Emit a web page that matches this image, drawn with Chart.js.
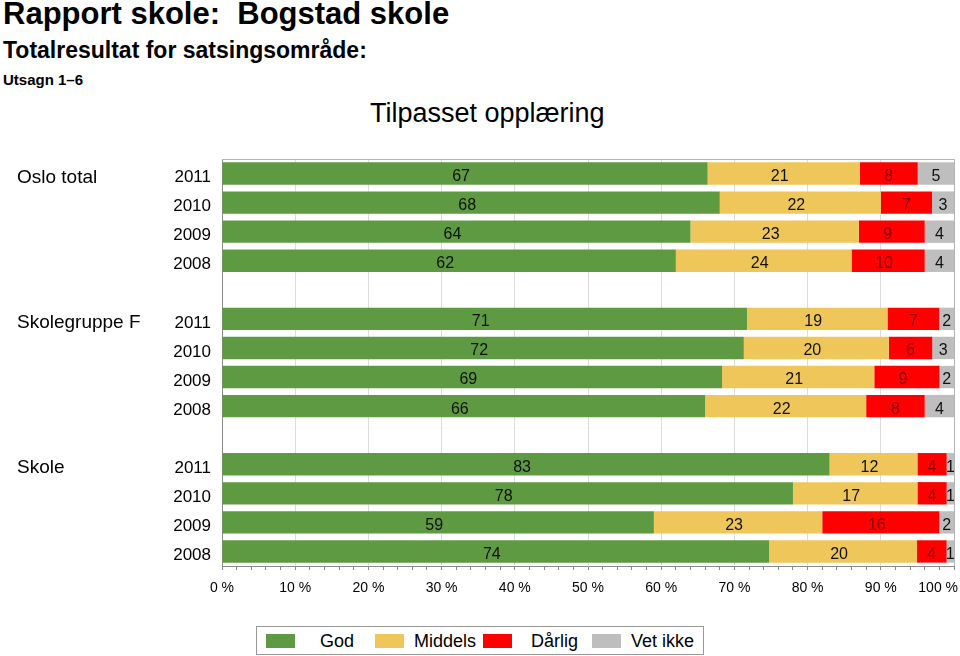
<!DOCTYPE html>
<html>
<head>
<meta charset="utf-8">
<script src="https://cdn.jsdelivr.net/npm/chart.js@4.4.1/dist/chart.umd.min.js"></script>
<style>
  html, body { margin:0; padding:0; background:#fff; }
  body { width:960px; height:656px; position:relative; overflow:hidden; font-family:"Liberation Sans", Arial, sans-serif; color:#000; }
  .t { position:absolute; white-space:nowrap; line-height:1; }
  #chartWrap { position:absolute; left:0; top:0; width:960px; height:656px; }
  #legend { position:absolute; left:256px; top:626px; width:446px; height:27px; border:1px solid #999; background:#fff; }
  .sw { position:absolute; top:7px; width:29px; height:14px; }
  .lt { position:absolute; top:5px; font-size:18px; line-height:1; white-space:nowrap; }
</style>
</head>
<body>
<div class="t" style="left:3px;top:-2px;font-size:31px;font-weight:bold;">Rapport skole:&nbsp; Bogstad skole</div>
<div class="t" style="left:3px;top:39px;font-size:23px;font-weight:bold;">Totalresultat for satsingsområde:</div>
<div class="t" style="left:3px;top:72px;font-size:15px;font-weight:bold;">Utsagn 1–6</div>
<div class="t" style="left:370px;top:100px;font-size:27px;">Tilpasset opplæring</div>
<div id="chartWrap"><canvas id="c" width="960" height="656"></canvas></div>
<div id="legend"></div>
<script>
// ---- data ----
const groups = ['Oslo total', 'Skolegruppe F', 'Skole'];
const years = ['2011', '2010', '2009', '2008'];
const seriesNames = ['God', 'Middels', 'Dårlig', 'Vet ikke'];
const seriesColors = ['#5e9a41', '#eec65a', '#ff0000', '#bebebe'];
const labelColors = ['#111111', '#111111', '#8b0000', '#111111'];

// values per group, rows in year order 2011, 2010, 2009, 2008
const god      = [[67, 68, 64, 62], [71, 72, 69, 66], [83, 78, 59, 74]];
const middels  = [[21, 22, 23, 24], [19, 20, 21, 22], [12, 17, 23, 20]];
const darlig   = [[8, 7, 9, 10],    [7, 6, 9, 8],     [4, 4, 16, 4]];
const vetIkke  = [[5, 3, 4, 4],     [2, 3, 2, 4],     [1, 1, 2, 1]];

const xTickValues = [0, 10, 20, 30, 40, 50, 60, 70, 80, 90, 100];
const xTickLabels = ['0 %', '10 %', '20 %', '30 %', '40 %', '50 %', '60 %', '70 %', '80 %', '90 %', '100 %'];

// ---- build categories (blank rows between groups) ----
const labels = [];
const groupStartIndex = [];
const rowRefs = []; // [g, r] or null
groups.forEach((g, gi) => {
  if (gi > 0) { labels.push(''); rowRefs.push(null); }
  groupStartIndex.push(labels.length);
  years.forEach((y, ri) => { labels.push(y); rowRefs.push([gi, ri]); });
});
const allSeries = [god, middels, darlig, vetIkke];
function rowSum(gi, ri) { return allSeries.reduce((s, a) => s + a[gi][ri], 0); }

const datasets = allSeries.map((arr, si) => ({
  label: seriesNames[si],
  backgroundColor: seriesColors[si],
  borderWidth: 0,
  data: rowRefs.map(ref => ref ? arr[ref[0]][ref[1]] / rowSum(ref[0], ref[1]) * 100 : null),
  rawValues: rowRefs.map(ref => ref ? arr[ref[0]][ref[1]] : null),
  labelColor: labelColors[si],
  barPercentage: 0.77,
  categoryPercentage: 1.0
}));

// ---- plugins ----
const valueLabels = {
  id: 'valueLabels',
  afterDatasetsDraw(chart) {
    const ctx = chart.ctx;
    ctx.save();
    ctx.font = '16px "Liberation Sans", Arial, sans-serif';
    ctx.textAlign = 'center';
    ctx.textBaseline = 'middle';
    chart.data.datasets.forEach((ds, di) => {
      const meta = chart.getDatasetMeta(di);
      meta.data.forEach((bar, i) => {
        const v = ds.rawValues[i];
        if (v === null || v === undefined) return;
        const w = Math.abs(bar.x - bar.base);
        const x = (bar.x + bar.base) / 2 - (w > 60 ? 4 : 0);
        ctx.fillStyle = ds.labelColor;
        ctx.fillText(String(v), x, bar.y + 3);
      });
    });
    ctx.restore();
  }
};

const frameAndLabels = {
  id: 'frameAndLabels',
  afterDraw(chart) {
    const ctx = chart.ctx;
    const a = chart.chartArea;
    ctx.save();
    // frame
    ctx.strokeStyle = '#b4b4b4';
    ctx.lineWidth = 1;
    ctx.beginPath();
    ctx.moveTo(a.left, a.top + 0.5);
    ctx.lineTo(a.right + 0.5, a.top + 0.5);
    ctx.lineTo(a.right + 0.5, a.bottom);
    ctx.stroke();
    // group labels
    const yScale = chart.scales.y;
    ctx.fillStyle = '#000';
    ctx.font = '19px "Liberation Sans", Arial, sans-serif';
    ctx.textAlign = 'left';
    ctx.textBaseline = 'middle';
    groups.forEach((g, gi) => {
      const y = yScale.getPixelForValue(groupStartIndex[gi]);
      ctx.fillText(g, 17, y + 4);
    });
    // x tick labels
    const xScale = chart.scales.x;
    ctx.font = '14px "Liberation Sans Narrow", "Liberation Sans", Arial, sans-serif';
    ctx.textAlign = 'center';
    xTickValues.forEach((v, i) => {
      let x = xScale.getPixelForValue(v);
      const w = ctx.measureText(xTickLabels[i]).width;
      if (x + w / 2 > 958) x = 958 - w / 2;
      ctx.fillText(xTickLabels[i], x, 588);
    });
    ctx.restore();
  }
};

new Chart(document.getElementById('c'), {
  type: 'bar',
  data: { labels, datasets },
  options: {
    indexAxis: 'y',
    responsive: false,
    animation: false,
    layout: { padding: { top: 159, right: 6, bottom: 0, left: 0 } },
    plugins: { legend: { display: false }, title: { display: false }, tooltip: { enabled: false } },
    scales: {
      x: {
        type: 'linear',
        stacked: true,
        min: 0, max: 100,
        ticks: { stepSize: 2, display: false },
        grid: {
          color: c => (c.tick && Math.round(c.tick.value) % 10 === 0) ? '#dcdcdc' : 'rgba(0,0,0,0)',
          tickColor: '#8a8a8a',
          tickLength: 4,
          drawTicks: true
        },
        border: { display: true, color: '#8a8a8a' },
        afterFit(s) { s.height = 90; s.paddingLeft = 0; s.paddingRight = 0; }
      },
      y: {
        stacked: true,
        ticks: { color: '#000', font: { size: 17, family: '"Liberation Sans", Arial, sans-serif' }, padding: 11, autoSkip: false, labelOffset: 4 },
        grid: { display: false, drawTicks: false },
        border: { display: true, color: '#8a8a8a' },
        afterFit(s) { s.width = 222; s.paddingTop = 0; s.paddingBottom = 0; }
      }
    }
  },
  plugins: [valueLabels, frameAndLabels]
});

// ---- legend ----
const legend = document.getElementById('legend');
const swX = [9, 118, 226, 335];
const txX = [63, 157, 274, 374];
seriesNames.forEach((n, i) => {
  const sw = document.createElement('div');
  sw.className = 'sw';
  sw.style.left = swX[i] + 'px';
  sw.style.background = seriesColors[i];
  legend.appendChild(sw);
  const t = document.createElement('div');
  t.className = 'lt';
  t.style.left = txX[i] + 'px';
  t.textContent = n;
  legend.appendChild(t);
});
</script>
</body>
</html>
